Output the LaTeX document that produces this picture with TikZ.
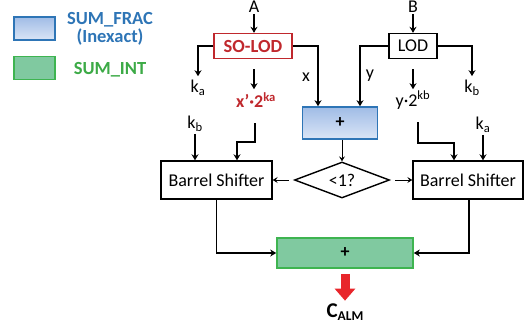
\documentclass[tikz,border=0pt]{standalone}
\usepackage{fontspec}
\setmainfont{Carlito}
\usetikzlibrary{arrows.meta,shapes.geometric,calc}
\definecolor{fracborder}{RGB}{46,117,182}
\definecolor{fractop}{RGB}{160,188,230}
\definecolor{fracbot}{RGB}{218,229,246}
\definecolor{intfill}{RGB}{128,201,160}
\definecolor{intborder}{RGB}{62,180,80}
\definecolor{inttext}{RGB}{60,170,70}
\definecolor{darkred}{RGB}{192,40,45}
\definecolor{arrred}{RGB}{232,38,43}
\begin{document}
\begin{tikzpicture}[x=1pt,y=-1pt,
  font=\fontsize{18}{20}\selectfont,
  arr/.style={line width=1.4pt,-{Stealth[length=6pt,width=7pt,inset=2pt]}},
  thinarr/.style={line width=1pt,-{Stealth[length=5pt,width=6pt,inset=2pt]}},
  box/.style={draw,line width=1.4pt,inner sep=0pt},
  fracbox/.style={draw=fracborder,line width=1.6pt,top color=fractop,bottom color=fracbot,inner sep=0pt},
  intbox/.style={draw=intborder,line width=1.6pt,fill=intfill,inner sep=0pt},
  lbl/.style={inner sep=1pt}]
\useasboundingbox (0,0) rectangle (531,327);
% legend
\node[fracbox,minimum width=41pt,minimum height=23pt] (lf) at (34.5,28.5) {};
\node[intbox,minimum width=41pt,minimum height=23pt] (li) at (34.5,68) {};
\node[text=fracborder,font=\fontsize{18.5}{18}\selectfont\bfseries,align=center] (lft) at (110,29) {SUM\_FRAC\\(Inexact)};
\node[text=inttext,font=\fontsize{18.5}{18}\selectfont\bfseries] (lit) at (110,70) {SUM\_INT};
% top inputs
\node[lbl] (A) at (254,7) {A};
\node[lbl] (B) at (413,7) {B};
\node[box,draw=darkred,text=darkred,font=\fontsize{18.5}{20}\selectfont\bfseries,minimum width=78pt,minimum height=25pt] (solod) at (253,46) {SO-LOD};
\node[box,minimum width=48pt,minimum height=25pt] (lod) at (413,46) {LOD};
\draw[arr] (A) -- (A |- solod.north);
\draw[arr] (B) -- (B |- lod.north);
% outputs of SO-LOD
\node[lbl] (ka1) at (198,88) {k\textsubscript{a}};
\node[lbl,text=darkred,font=\fontsize{18}{20}\selectfont\bfseries] (xp) at (256,100) {x’·2\textsuperscript{ka}};
\node[lbl] (xl) at (306,77) {x};
\draw[arr] (solod.west) -| ([yshift=3pt]ka1.north);
\draw[arr] ($(solod.south)+(1,10)$) -- ++(0,20);
% outputs of LOD
\node[lbl] (kb1) at (472,88) {k\textsubscript{b}};
\node[lbl] (yp) at (413,100) {y·2\textsuperscript{kb}};
\node[lbl] (yl) at (370,76) {y};
\draw[arr] (lod.east) -| ([yshift=3pt]kb1.north);
\draw[arr] ($(lod.south)+(0,10)$) -- ++(0,20);
% fraction adder
\node[fracbox,minimum width=75pt,minimum height=32pt,font=\fontsize{18}{20}\selectfont\bfseries] (plus) at (340,123) {+};
\draw[arr] (solod.east) -| ([xshift=-22pt]plus.north);
\draw[arr] (lod.west) -| ([xshift=20pt]plus.north);
% comparator
\node[draw,diamond,line width=1.4pt,inner sep=0pt,minimum width=95pt,minimum height=36pt,aspect=2.6] (cmp) at (342,180) {<1?};
\draw[thinarr] (plus.south -| cmp) -- (cmp.north);
% barrel shifters
\node[box,minimum width=111pt,minimum height=38pt] (bsl) at (216.5,180) {Barrel Shifter};
\node[box,minimum width=110pt,minimum height=38pt] (bsr) at (468,180) {Barrel Shifter};
\draw[thinarr,shorten <=5pt] (cmp.west) -- (bsl.east);
\draw[thinarr,shorten <=5pt] (cmp.east) -- (bsr.east -| bsr.west);
\node[lbl] (kb2) at (195,124) {k\textsubscript{b}};
\node[lbl] (ka2) at (483,125) {k\textsubscript{a}};
\draw[arr] ([yshift=-1pt]kb2.south) -- (kb2 |- bsl.north);
\draw[arr] ([yshift=-1pt]ka2.south) -- (ka2 |- bsr.north);
\coordinate (xs) at (255,123);
\coordinate (ys) at (418,122);
\draw[arr] (xs) |- (xs |- 0,142) -| ([xshift=20.5pt]bsl.north);
\draw[arr] (ys) |- (ys |- 0,143) -| ([xshift=-14pt]bsr.north);
% integer adder
\node[intbox,minimum width=136pt,minimum height=30pt,font=\fontsize{18}{20}\selectfont\bfseries] (gplus) at (345,253) {+};
\draw[arr] (bsl.south) |- (gplus.west);
\draw[arr] ([xshift=1pt]bsr.south) |- (gplus.east);
% output
\node[inner sep=0pt,font=\bfseries] (calm) at (345,312) {\fontsize{21}{21}\selectfont C\fontsize{13.5}{13.5}\selectfont\raisebox{-2.5pt}{ALM}};
\draw[arrred,line width=9pt,-{Triangle[length=12pt,width=20pt]}] ([yshift=-5pt]gplus.south) -- ([yshift=3pt]calm.north);
\end{tikzpicture}
\end{document}
